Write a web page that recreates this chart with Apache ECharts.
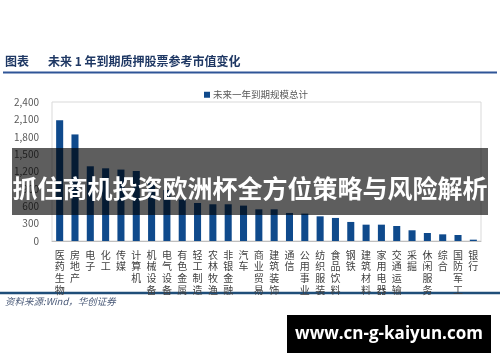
<!DOCTYPE html>
<html>
<head>
<meta charset="utf-8">
<script src="https://cdn.jsdelivr.net/npm/echarts@6/dist/echarts.min.js"></script>
<style>
html,body{margin:0;padding:0;background:#fff;}
#c{width:500px;height:362px;}
</style>
</head>
<body>
<div id="c"></div>
<script>
var categories = ['医药生物','房地产','电子','化工','传媒','计算机','机械设备','电气设备','有色金属','轻工制造','农林牧渔','非银金融','汽车','商业贸易','建筑装饰','通信','公用事业','纺织服装','食品饮料','钢铁','建筑材料','家用电器','交通运输','采掘','休闲服务','综合','国防军工','银行'];
var values = [2085, 1840, 1290, 1255, 1233, 1209, 1000, 880, 715, 656, 634, 634, 611, 547, 547, 484, 473, 426, 398, 329, 282, 282, 259, 185, 138, 115, 104, 23];
var seriesName = '未来一年到期规模总计';
var yTicks = [0, 300, 600, 900, 1200, 1500, 1800, 2100, 2400];
var titleLabel = '图表';
var titleText = '未来 1 年到期质押股票参考市值变化';
var sourceText = '资料来源:Wind，华创证券';
var bannerText = '抓住商机投资欧洲杯全方位策略与风险解析';
var watermarkText = 'www.cn-g-kaiyun.com';

var chart = echarts.init(document.getElementById('c'), null, {renderer: 'canvas'});
var cjk = '"Noto Sans CJK SC", "Microsoft YaHei", sans-serif';
chart.setOption({
  animation: false,
  backgroundColor: '#ffffff',
  textStyle: {fontFamily: cjk},
  legend: {
    data: [seriesName],
    left: 199,
    top: 85,
    icon: 'rect',
    itemWidth: 6,
    itemHeight: 6,
    itemGap: 4,
    textStyle: {fontSize: 9.5, color: '#595959', padding: [0, 0, 0, -2]}
  },
  grid: {
    left: 52, right: 19, top: 102, bottom: 121,
    show: true, borderColor: '#d9d9d9', borderWidth: 1
  },
  xAxis: {
    type: 'category',
    data: categories,
    axisLine: {show: true, lineStyle: {color: '#bfbfbf'}},
    axisTick: {show: false},
    axisLabel: {
      interval: 0,
      margin: 8,
      fontSize: 10,
      lineHeight: 11.7,
      color: '#404040',
      verticalAlign: 'top',
      formatter: function (v) { return v.split('').join('\n'); }
    }
  },
  yAxis: {
    type: 'value',
    min: yTicks[0],
    max: yTicks[yTicks.length - 1],
    interval: yTicks[1] - yTicks[0],
    axisLine: {show: false},
    axisTick: {show: false},
    splitLine: {show: false},
    axisLabel: {
      margin: 13,
      fontSize: 10,
      color: '#595959',
      formatter: function (v) { return v.toLocaleString('en-US'); }
    }
  },
  series: [{
    name: seriesName,
    type: 'bar',
    data: values,
    barWidth: '46%',
    itemStyle: {color: '#0f4a8c'}
  }],
  graphic: [
    {type: 'text', left: 5, top: 55, style: {text: titleLabel, fontSize: 12, fontWeight: 'bold', fill: '#1f3864', fontFamily: cjk}},
    {type: 'text', left: 48, top: 55, style: {text: titleText, fontSize: 12, fontWeight: 'bold', fill: '#1f3864', fontFamily: cjk}},
    {type: 'line', shape: {x1: 3, y1: 72.5, x2: 497, y2: 72.5}, style: {stroke: '#2f5597', lineWidth: 2}},
    {type: 'line', shape: {x1: 0, y1: 293, x2: 500, y2: 293}, style: {stroke: '#1f4e79', lineWidth: 2.5}},
    {type: 'text', left: 5, top: 297, style: {text: sourceText, fontSize: 9.5, fontStyle: 'italic', fill: '#4a5a78', fontFamily: cjk}},
    {type: 'rect', shape: {x: 12, y: 148, width: 476, height: 67}, style: {fill: 'rgba(0,0,0,0.63)'}, z: 100},
    {type: 'text', x: 250, y: 188, z: 101, style: {text: bannerText, fontSize: 25, fontWeight: 'bold', fill: '#ffffff', align: 'center', verticalAlign: 'middle', fontFamily: cjk}},
    {type: 'rect', shape: {x: 287, y: 315, width: 204, height: 38}, style: {fill: '#000000'}, z: 100},
    {type: 'text', x: 389, y: 334, z: 101, style: {text: watermarkText, fontSize: 17, fontWeight: 'bold', fill: '#ffffff', align: 'center', verticalAlign: 'middle', fontFamily: '"Open Sans", "DejaVu Sans", sans-serif'}}
  ]
});
</script>
</body>
</html>
